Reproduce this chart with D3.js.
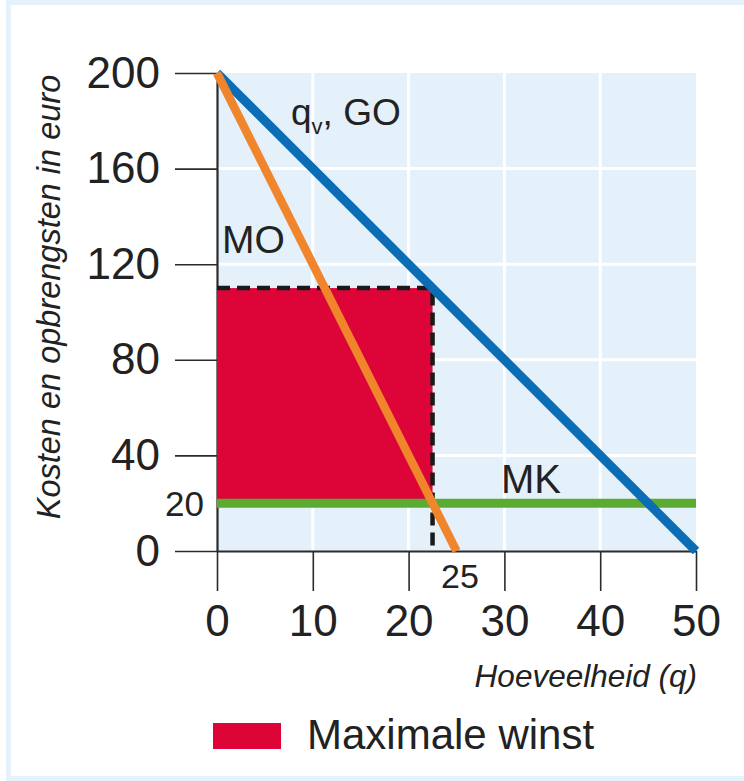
<!DOCTYPE html>
<html>
<head>
<meta charset="utf-8">
<script src="https://cdn.jsdelivr.net/npm/d3@7"></script>
<style>
  html, body { margin: 0; padding: 0; background: #ffffff; }
  svg { display: block; font-family: "Liberation Sans", Arial, sans-serif; }
</style>
</head>
<body>
<svg id="chart" width="744" height="781"></svg>
<script>
// Quantity / price data for the monopoly profit diagram
const goQuantity = [0, 50];        // GO (total revenue / demand) line endpoints, q
const goPrice = [200, 0];          // GO values at those quantities
const moQuantity = [0, 25];        // MO (marginal revenue) endpoints, q
const moPrice = [200, 0];
const mkQuantity = [0, 50];        // MK (marginal cost) is flat
const mkPrice = [20, 20];
const profitQuantity = [0, 22.5];  // optimum output where MO = MK
const profitPrice = [20, 110];     // from MK up to the price on GO
const xTicks = [0, 10, 20, 30, 40, 50];
const yTicks = [0, 40, 80, 120, 160, 200];
const xGrid = [10, 20, 30, 40];
const yGrid = [40, 80, 120, 160];

const svg = d3.select("#chart");

// light blue frame around the panel
svg.append("rect").attr("x", 6).attr("y", 0).attr("width", 744).attr("height", 781).attr("fill", "#e6f2fb");
svg.append("rect").attr("x", 11).attr("y", 5).attr("width", 733).attr("height", 771).attr("fill", "#ffffff");

const x = d3.scaleLinear().domain([0, 50]).range([217, 696]);
const y = d3.scaleLinear().domain([0, 200]).range([551, 73]);

// plot background with white grid
svg.append("rect")
  .attr("x", x(0)).attr("y", y(200))
  .attr("width", x(50) - x(0)).attr("height", y(0) - y(200))
  .attr("fill", "#e4f1fb");

svg.append("g").selectAll("line").data(xGrid).join("line")
  .attr("x1", d => x(d)).attr("x2", d => x(d))
  .attr("y1", y(200)).attr("y2", y(0))
  .attr("stroke", "#ffffff").attr("stroke-width", 3);
svg.append("g").selectAll("line").data(yGrid).join("line")
  .attr("x1", x(0)).attr("x2", x(50))
  .attr("y1", d => y(d)).attr("y2", d => y(d))
  .attr("stroke", "#ffffff").attr("stroke-width", 3);

// axes
const axisColor = "#2b2b2b";
const yAxis = svg.append("g")
  .attr("transform", `translate(${x(0)},0)`)
  .call(d3.axisLeft(y).tickValues(yTicks).tickSize(42).tickPadding(15).tickSizeOuter(0));
const xAxis = svg.append("g")
  .attr("transform", `translate(0,${y(0)})`)
  .call(d3.axisBottom(x).tickValues(xTicks).tickSize(40).tickPadding(14).tickSizeOuter(0));
[yAxis, xAxis].forEach(g => {
  g.select(".domain").attr("stroke", axisColor).attr("stroke-width", 2.2);
  g.selectAll(".tick line").attr("stroke", axisColor).attr("stroke-width", 1.6);
  g.selectAll(".tick text")
    .attr("fill", "#222222")
    .attr("font-size", 44)
    .attr("font-family", "Liberation Sans, Arial, sans-serif");
});

// maximum profit area
svg.append("rect")
  .attr("x", x(profitQuantity[0]))
  .attr("y", y(profitPrice[1]))
  .attr("width", x(profitQuantity[1]) - x(profitQuantity[0]))
  .attr("height", y(profitPrice[0]) - y(profitPrice[1]))
  .attr("fill", "#dd0537");

// dashed guides to the price and the quantity
svg.append("path")
  .attr("d", d3.line()([
    [x(0), y(profitPrice[1])],
    [x(profitQuantity[1]), y(profitPrice[1])],
    [x(profitQuantity[1]), y(0)]
  ]))
  .attr("fill", "none")
  .attr("stroke", "#1a1a1a")
  .attr("stroke-width", 4.5)
  .attr("stroke-dasharray", "13,7");

const line = d3.line().x(d => x(d[0])).y(d => y(d[1]));

// MK
svg.append("path")
  .attr("d", line(d3.zip(mkQuantity, mkPrice)))
  .attr("stroke", "#5bab33").attr("stroke-width", 9).attr("fill", "none");
// GO
svg.append("path")
  .attr("d", line(d3.zip(goQuantity, goPrice)))
  .attr("stroke", "#0b6db6").attr("stroke-width", 9).attr("fill", "none");
// MO
svg.append("path")
  .attr("d", line(d3.zip(moQuantity, moPrice)))
  .attr("stroke", "#f0852b").attr("stroke-width", 8.5).attr("fill", "none");

// line labels
const labelColor = "#222222";
const goLabel = svg.append("text")
  .attr("x", 291).attr("y", 125)
  .attr("font-size", 37).attr("fill", labelColor);
goLabel.append("tspan").text("q");
goLabel.append("tspan").attr("font-size", 22).attr("dy", 9).text("v");
goLabel.append("tspan").attr("dy", -9).text(", GO");

svg.append("text").attr("x", 222).attr("y", 253)
  .attr("font-size", 39).attr("fill", labelColor).text("MO");
svg.append("text").attr("x", 501).attr("y", 493)
  .attr("font-size", 40).attr("fill", labelColor).text("MK");

// extra value labels
svg.append("text").attr("x", 204).attr("y", 516)
  .attr("text-anchor", "end")
  .attr("font-size", 35).attr("fill", labelColor).text("20");
svg.append("text").attr("x", 460).attr("y", 588)
  .attr("text-anchor", "middle")
  .attr("font-size", 34).attr("fill", labelColor).text("25");

// axis titles
svg.append("text")
  .attr("transform", "translate(60,297) rotate(-90)")
  .attr("text-anchor", "middle")
  .attr("font-style", "italic")
  .attr("font-size", 32.5)
  .attr("fill", labelColor)
  .text("Kosten en opbrengsten in euro");
svg.append("text")
  .attr("x", 697).attr("y", 687)
  .attr("text-anchor", "end")
  .attr("font-style", "italic")
  .attr("font-size", 31.5)
  .attr("fill", labelColor)
  .text("Hoeveelheid (q)");

// legend
svg.append("rect").attr("x", 213).attr("y", 723).attr("width", 68).attr("height", 26).attr("fill", "#dd0537");
svg.append("text").attr("x", 307).attr("y", 749)
  .attr("font-size", 42).attr("fill", labelColor).text("Maximale winst");
</script>
</body>
</html>
